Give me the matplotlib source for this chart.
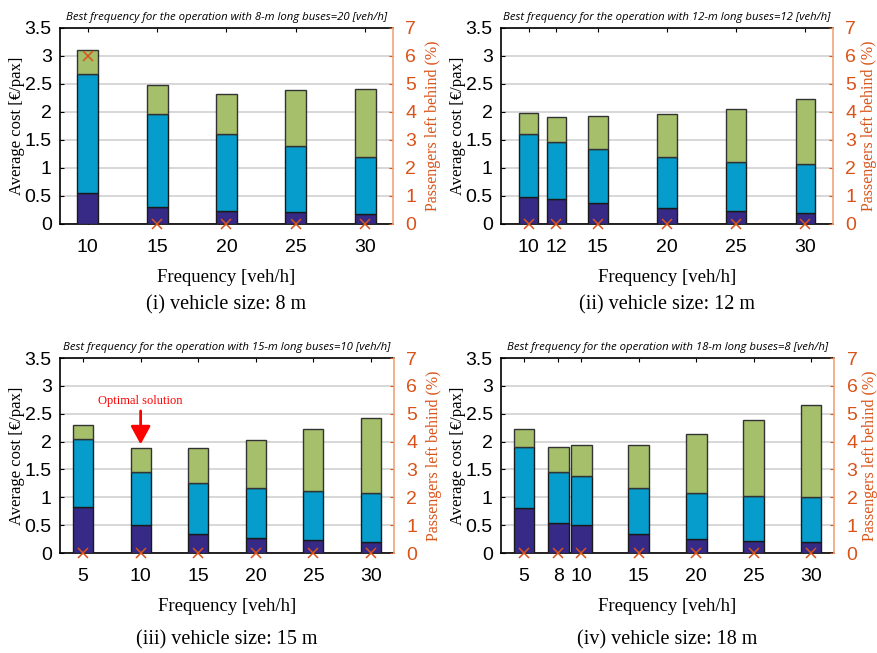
import numpy as np
import matplotlib.pyplot as plt

# frequency [veh/h] and stacked average cost components [EUR/pax] per vehicle size
freq_8 = [10, 15, 20, 25, 30]
low_8 = [0.55, 0.30, 0.24, 0.21, 0.18]
mid_8 = [2.13, 1.67, 1.36, 1.19, 1.01]
top_8 = [0.42, 0.52, 0.73, 0.99, 1.22]
left_8 = [6, 0, 0, 0, 0]

freq_12 = [10, 12, 15, 20, 25, 30]
low_12 = [0.49, 0.44, 0.37, 0.28, 0.23, 0.20]
mid_12 = [1.12, 1.02, 0.97, 0.92, 0.87, 0.88]
top_12 = [0.37, 0.45, 0.59, 0.76, 0.96, 1.16]
left_12 = [0, 0, 0, 0, 0, 0]

freq_15 = [5, 10, 15, 20, 25, 30]
low_15 = [0.82, 0.50, 0.35, 0.27, 0.23, 0.20]
mid_15 = [1.22, 0.96, 0.90, 0.89, 0.88, 0.87]
top_15 = [0.26, 0.42, 0.64, 0.87, 1.11, 1.36]
left_15 = [0, 0, 0, 0, 0, 0]

freq_18 = [5, 8, 10, 15, 20, 25, 30]
low_18 = [0.80, 0.54, 0.50, 0.34, 0.26, 0.22, 0.20]
mid_18 = [1.11, 0.92, 0.88, 0.82, 0.81, 0.81, 0.80]
top_18 = [0.32, 0.45, 0.55, 0.78, 1.06, 1.36, 1.65]
left_18 = [0, 0, 0, 0, 0, 0, 0]

c_low = '#372a87'
c_mid = '#069dcc'
c_top = '#a5bf6a'
c_right = '#d95319'

plt.rcParams['font.family'] = 'Liberation Sans'
fig = plt.figure(figsize=(8.78, 6.53), dpi=100)

# [left, bottom, width, height] in figure fraction
boxes = [
    [60 / 878, 1 - 224 / 653, 333 / 878, 196 / 653],
    [501 / 878, 1 - 224 / 653, 332 / 878, 196 / 653],
    [60 / 878, 1 - 553 / 653, 334 / 878, 195 / 653],
    [501 / 878, 1 - 553 / 653, 333 / 878, 195 / 653],
]
caption_y = [1 - 305 / 653, 1 - 305 / 653, 1 - 640 / 653, 1 - 640 / 653]
right_pad = [6, 3, 6, 3]

panels = [
    (freq_8, low_8, mid_8, top_8, left_8, 8, (8, 32), 1.5,
     'Best frequency for the operation with 8-m long buses=20 [veh/h]', '(i) vehicle size: 8 m'),
    (freq_12, low_12, mid_12, top_12, left_12, 12, (8, 32), 1.4,
     'Best frequency for the operation with 12-m long buses=12 [veh/h]', '(ii) vehicle size: 12 m'),
    (freq_15, low_15, mid_15, top_15, left_15, 15, (3, 32), 1.75,
     'Best frequency for the operation with 15-m long buses=10 [veh/h]', '(iii) vehicle size: 15 m'),
    (freq_18, low_18, mid_18, top_18, left_18, 18, (3, 32), 1.8,
     'Best frequency for the operation with 18-m long buses=8 [veh/h]', '(iv) vehicle size: 18 m'),
]

for box, cy, rp, (f, lo, mi, tp, lb, size, xl, w, ttl, cap) in zip(boxes, caption_y, right_pad, panels):
    ax = fig.add_axes(box)
    lo = np.array(lo)
    mi = np.array(mi)
    tp = np.array(tp)
    ax.bar(f, lo, width=w, color=c_low, edgecolor='#1a1a1a', linewidth=1, zorder=3)
    ax.bar(f, mi, width=w, bottom=lo, color=c_mid, edgecolor='#1a1a1a', linewidth=1, zorder=3)
    ax.bar(f, tp, width=w, bottom=lo + mi, color=c_top, edgecolor='#333333', linewidth=1, zorder=3)
    ax.set_xlim(*xl)
    ax.set_ylim(0, 3.5)
    ax.set_yticks(np.arange(0, 3.51, 0.5))
    ax.set_yticklabels(['0', '0.5', '1', '1.5', '2', '2.5', '3', '3.5'])
    ax.set_xticks(f)
    ax.grid(axis='y', color='#d4d4d4', linewidth=1.3, zorder=0)
    ax.tick_params(direction='in', top=True, labelsize=14, length=3, pad=6)
    ax.tick_params(axis='x', pad=11)
    for s in ['left', 'bottom', 'top']:
        ax.spines[s].set_linewidth(1.2)
    ax.spines['right'].set_visible(False)
    ax.set_ylabel('Average cost [€/pax]', family='Liberation Serif', fontsize=12, labelpad=0)
    ax.set_xlabel('Frequency [veh/h]', family='Liberation Serif', fontsize=13.5, labelpad=9)
    ax.set_title(ttl, fontsize=8.2, style='italic', family='Open Sans', pad=6)
    fig.text(box[0] + box[2] / 2, cy, cap, ha='center', va='center',
             family='Liberation Serif', fontsize=14.5)

    ax2 = ax.twinx()
    ax2.set_ylim(0, 7)
    ax2.plot(f, lb, linestyle='none', marker='x', color=c_right, markersize=7, mew=1.1,
             clip_on=False, zorder=5)
    ax2.set_yticks(np.arange(0, 8))
    ax2.tick_params(direction='in', colors=c_right, labelsize=14, length=3, pad=9)
    ax2.spines['right'].set_color('#f0a47c')
    ax2.spines['right'].set_linewidth(1.2)
    for s in ['left', 'bottom', 'top']:
        ax2.spines[s].set_visible(False)
    ax2.set_ylabel('Passengers left behind (%)', family='Liberation Serif', fontsize=11.5,
                   color=c_right, labelpad=rp)

    if size == 15:
        ax.annotate('', xy=(10, 1.9), xytext=(10, 2.6),
                    arrowprops=dict(arrowstyle='-|>,head_width=0.6,head_length=1.1',
                                    color='red', lw=2), zorder=6)
        ax.text(10, 2.72, 'Optimal solution', color='red', family='Liberation Serif',
                fontsize=9, ha='center', va='center')

fig.savefig('out.png', dpi=100)
